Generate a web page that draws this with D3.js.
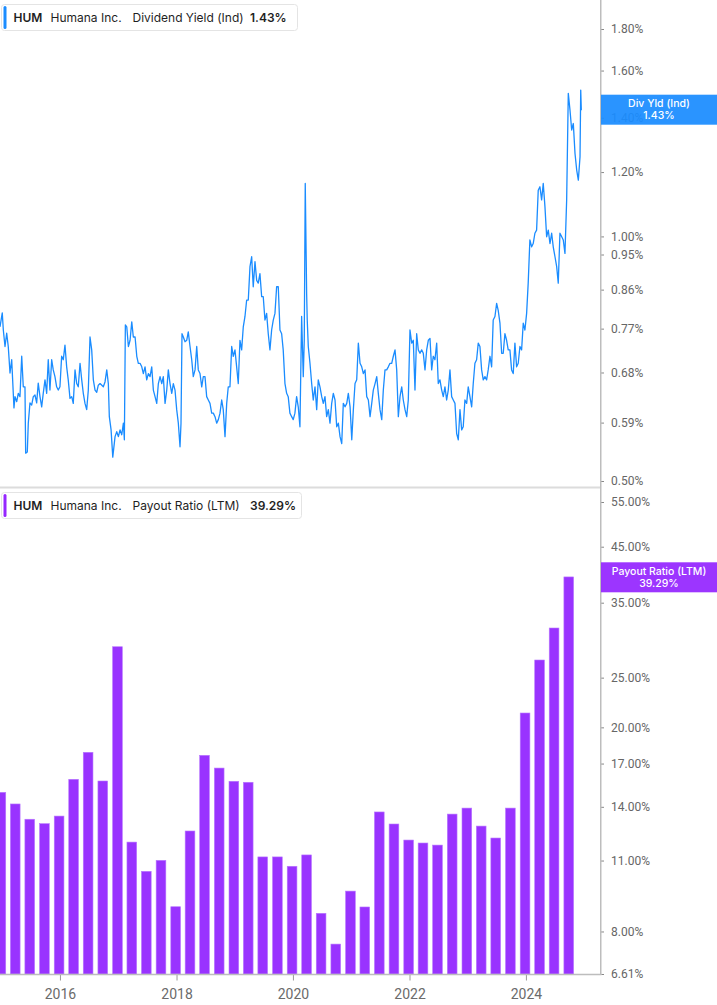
<!DOCTYPE html>
<html><head><meta charset="utf-8">
<script src="https://cdn.jsdelivr.net/npm/d3@7"></script>
<style>
html,body{margin:0;padding:0;background:#fff;}
svg{display:block;}
text{font-family:Inter,"Noto Sans",Roboto,sans-serif;}
</style></head><body>
<svg id="chart" width="717" height="1005"></svg>
<script>
// ---------- DATA ----------
const divDates = [
2014.970,2015.009,2015.027,2015.056,2015.085,2015.112,2015.142,2015.171,2015.210,2015.228,
2015.257,2015.284,2015.313,2015.343,2015.370,2015.399,2015.411,2015.439,2015.456,2015.485,
2015.514,2015.542,2015.571,2015.600,2015.627,2015.657,2015.686,2015.713,2015.743,2015.772,
2015.799,2015.828,2015.858,2015.885,2015.914,2015.943,2015.971,2016.000,2016.029,2016.057,
2016.086,2016.115,2016.142,2016.172,2016.201,2016.228,2016.258,2016.287,2016.314,2016.344,
2016.373,2016.400,2016.429,2016.458,2016.486,2016.515,2016.544,2016.572,2016.601,2016.630,
2016.657,2016.687,2016.743,2016.772,2016.802,2016.829,2016.846,2016.876,2016.905,2016.944,
2016.973,2017.001,2017.030,2017.059,2017.087,2017.104,2017.121,2017.145,2017.173,2017.202,
2017.231,2017.258,2017.288,2017.317,2017.344,2017.373,2017.403,2017.430,2017.459,2017.488,
2017.516,2017.545,2017.574,2017.602,2017.631,2017.660,2017.688,2017.717,2017.746,2017.773,
2017.803,2017.832,2017.859,2017.888,2017.918,2017.945,2017.974,2018.003,2018.031,2018.060,
2018.077,2018.094,2018.117,2018.146,2018.175,2018.202,2018.232,2018.261,2018.288,2018.318,
2018.347,2018.374,2018.403,2018.433,2018.460,2018.489,2018.518,2018.546,2018.575,2018.604,
2018.632,2018.661,2018.690,2018.718,2018.747,2018.776,2018.803,2018.833,2018.862,2018.889,
2018.918,2018.948,2018.975,2019.004,2019.033,2019.061,2019.090,2019.119,2019.147,2019.176,
2019.205,2019.233,2019.262,2019.291,2019.318,2019.348,2019.377,2019.404,2019.433,2019.463,
2019.490,2019.519,2019.548,2019.576,2019.605,2019.634,2019.662,2019.691,2019.720,2019.748,
2019.777,2019.806,2019.833,2019.863,2019.892,2019.919,2019.948,2019.978,2020.005,2020.034,
2020.063,2020.091,2020.120,2020.149,2020.177,2020.194,2020.211,2020.235,2020.245,2020.263,
2020.292,2020.321,2020.348,2020.378,2020.407,2020.434,2020.463,2020.493,2020.520,2020.549,
2020.578,2020.606,2020.635,2020.664,2020.692,2020.721,2020.750,2020.778,2020.807,2020.836,
2020.863,2020.893,2020.922,2020.949,2020.979,2021.008,2021.035,2021.064,2021.093,2021.121,
2021.150,2021.179,2021.207,2021.236,2021.265,2021.293,2021.322,2021.351,2021.378,2021.408,
2021.437,2021.464,2021.493,2021.523,2021.550,2021.579,2021.608,2021.636,2021.665,2021.694,
2021.722,2021.751,2021.780,2021.808,2021.837,2021.866,2021.893,2021.923,2021.952,2021.979,
2022.008,2022.038,2022.065,2022.094,2022.123,2022.151,2022.180,2022.209,2022.237,2022.266,
2022.295,2022.323,2022.352,2022.381,2022.408,2022.437,2022.467,2022.494,2022.523,2022.553,
2022.580,2022.609,2022.638,2022.666,2022.695,2022.724,2022.752,2022.781,2022.810,2022.838,
2022.867,2022.896,2022.923,2022.952,2022.982,2023.009,2023.038,2023.068,2023.095,2023.124,
2023.153,2023.181,2023.210,2023.239,2023.267,2023.296,2023.325,2023.352,2023.382,2023.411,
2023.438,2023.468,2023.497,2023.524,2023.554,2023.583,2023.610,2023.639,2023.668,2023.696,
2023.725,2023.754,2023.782,2023.811,2023.840,2023.868,2023.897,2023.926,2023.954,2023.983,
2024.012,2024.039,2024.068,2024.098,2024.125,2024.154,2024.183,2024.211,2024.240,2024.269,
2024.297,2024.326,2024.355,2024.383,2024.412,2024.441,2024.468,2024.498,2024.527,2024.554,
2024.583,2024.613,2024.640,2024.669,2024.698,2024.726,2024.755,2024.784,2024.812,2024.841,
2024.870,2024.898,2024.927,2024.939,2024.949
];
const divYield = [
0.774,0.805,0.767,0.732,0.760,0.732,0.679,0.705,0.615,0.635,
0.626,0.641,0.635,0.712,0.653,0.653,0.541,0.543,0.589,0.624,
0.620,0.635,0.638,0.624,0.660,0.635,0.617,0.641,0.666,0.641,
0.705,0.647,0.705,0.685,0.672,0.653,0.647,0.653,0.712,0.705,
0.735,0.691,0.666,0.632,0.635,0.623,0.685,0.659,0.653,0.698,
0.666,0.641,0.623,0.612,0.647,0.752,0.725,0.666,0.647,0.643,
0.656,0.659,0.653,0.662,0.685,0.659,0.600,0.578,0.535,0.567,
0.575,0.567,0.578,0.570,0.589,0.562,0.778,0.774,0.732,0.745,
0.785,0.752,0.752,0.712,0.698,0.698,0.691,0.678,0.691,0.666,
0.678,0.672,0.691,0.647,0.635,0.623,0.659,0.672,0.659,0.672,
0.623,0.647,0.685,0.659,0.641,0.659,0.647,0.612,0.589,0.551,
0.589,0.759,0.752,0.742,0.745,0.763,0.732,0.705,0.672,0.685,
0.732,0.685,0.678,0.653,0.672,0.672,0.635,0.629,0.623,0.606,
0.606,0.600,0.589,0.595,0.606,0.629,0.612,0.567,0.623,0.653,
0.653,0.732,0.712,0.725,0.691,0.659,0.745,0.725,0.774,0.797,
0.835,0.835,0.918,0.944,0.867,0.931,0.883,0.876,0.900,0.843,
0.843,0.789,0.804,0.759,0.725,0.767,0.789,0.804,0.867,0.867,
0.767,0.759,0.725,0.659,0.641,0.635,0.606,0.600,0.595,0.606,
0.635,0.617,0.583,0.797,0.672,0.745,1.162,0.849,0.789,0.732,
0.698,0.659,0.629,0.653,0.612,0.666,0.653,0.635,0.623,0.635,
0.600,0.612,0.589,0.623,0.641,0.629,0.583,0.589,0.567,0.556,
0.623,0.617,0.623,0.641,0.617,0.562,0.612,0.659,0.666,0.739,
0.698,0.691,0.678,0.685,0.635,0.629,0.600,0.623,0.647,0.659,
0.672,0.641,0.612,0.595,0.647,0.685,0.685,0.691,0.698,0.698,
0.712,0.725,0.685,0.600,0.635,0.653,0.629,0.612,0.600,0.629,
0.767,0.739,0.745,0.647,0.759,0.725,0.718,0.725,0.718,0.685,
0.725,0.745,0.749,0.685,0.712,0.705,0.739,0.659,0.666,0.647,
0.635,0.653,0.629,0.647,0.685,0.635,0.629,0.623,0.572,0.562,
0.612,0.578,0.583,0.629,0.623,0.653,0.635,0.617,0.659,0.698,
0.705,0.739,0.732,0.685,0.666,0.672,0.666,0.685,0.712,0.691,
0.789,0.797,0.827,0.811,0.782,0.718,0.718,0.759,0.745,0.725,
0.725,0.685,0.678,0.739,0.691,0.698,0.732,0.725,0.782,0.767,
0.804,0.876,0.990,0.971,0.980,1.009,1.018,1.140,1.151,1.109,
1.162,1.088,0.999,1.018,0.980,1.009,0.971,0.944,0.918,0.876,
1.009,0.999,0.990,0.953,1.109,1.500,1.431,1.352,1.377,1.265,
1.207,1.173,1.253,1.514,1.430
];
const payoutQuarters = [
"2014-12-31","2015-03-31","2015-06-30","2015-09-30","2015-12-31","2016-03-31","2016-06-30","2016-09-30",
"2016-12-31","2017-03-31","2017-06-30","2017-09-30","2017-12-31","2018-03-31","2018-06-30","2018-09-30",
"2018-12-31","2019-03-31","2019-06-30","2019-09-30","2019-12-31","2020-03-31","2020-06-30","2020-09-30",
"2020-12-31","2021-03-31","2021-06-30","2021-09-30","2021-12-31","2022-03-31","2022-06-30","2022-09-30",
"2022-12-31","2023-03-31","2023-06-30","2023-09-30","2023-12-31","2024-03-31","2024-06-30","2024-09-30"
];
const payoutRatio = [
14.94,14.18,13.24,12.98,13.43,15.84,17.88,15.72,
28.72,11.95,10.48,11.01,8.94,12.56,17.64,16.66,
15.70,15.63,11.18,11.18,10.72,11.28,8.68,7.56,
9.59,8.93,13.68,12.96,12.06,11.90,11.79,13.55,
13.92,12.84,12.17,13.92,21.33,27.06,31.24,39.29
];
const yieldTicks = [0.50,0.59,0.68,0.77,0.86,0.95,1.00,1.20,1.40,1.60,1.80];
const payoutTicks = [6.61,8,11,14,17,20,25,35,45,55];
const yearTicks = [2016,2018,2020,2022,2024];
const lastYield = 1.43, lastPayout = 39.29;

// ---------- HELPERS ----------
function decToDate(d){const y=Math.floor(d);const s=Date.UTC(y,0,1),e=Date.UTC(y+1,0,1);return new Date(s+(d-y)*(e-s));}

const svg = d3.select("#chart");
const W = 717, plotR = 600;
const x = d3.scaleUtc().domain([decToDate(2014.970), decToDate(2025.270)]).range([0, plotR]);
const yTop = d3.scaleLog().domain([0.5, 1.8]).range([481, 29]);
const yBot = d3.scaleLog().domain([6.61, 55]).range([974, 502]);

svg.append("defs").append("clipPath").attr("id","clip")
  .append("rect").attr("x",0).attr("y",0).attr("width",plotR).attr("height",1005);

// ---------- BARS ----------
const bw = 9.7;
svg.append("g").attr("clip-path","url(#clip)")
  .selectAll("rect").data(payoutQuarters.map((q,i)=>({d:new Date(q+"T00:00:00Z"), v:payoutRatio[i]})))
  .join("rect")
  .attr("x", d=>x(d.d)-bw/2-0.7)
  .attr("width", bw)
  .attr("y", d=>yBot(d.v))
  .attr("height", d=>yBot(6.61)-yBot(d.v))
  .attr("fill", "#9933ff")
  .attr("stroke", "#b877ff").attr("stroke-width", 0.6);

// ---------- LINE ----------
const lineData = divDates.map((t,i)=>({d:decToDate(t), v:divYield[i]}));
svg.append("path").datum(lineData)
  .attr("clip-path","url(#clip)")
  .attr("fill","none").attr("stroke","#1a8cff").attr("stroke-width",1.3)
  .attr("stroke-linejoin","round")
  .attr("d", d3.line().x(d=>x(d.d)).y(d=>yTop(d.v)));

// ---------- SEPARATOR ----------
svg.append("line").attr("x1",0).attr("x2",plotR).attr("y1",487.5).attr("y2",487.5)
  .attr("stroke","#dcdcdc").attr("stroke-width",2);

// ---------- AXES ----------
const axisCol = "#bdbdbd";
function styleAxis(g){
  g.select(".domain").remove();
  g.selectAll(".tick line").attr("stroke","#888").attr("stroke-width",1);
  g.selectAll(".tick text").attr("fill","#666").style("font-family","Roboto, 'Noto Sans', sans-serif").style("font-size","12px");
}
svg.append("g").attr("transform",`translate(${plotR+1},0)`)
  .call(d3.axisRight(yTop).tickValues(yieldTicks).tickFormat(d=>d.toFixed(2)+"%").tickSize(3).tickPadding(7))
  .call(styleAxis);
svg.append("g").attr("transform",`translate(${plotR+1},0)`)
  .call(d3.axisRight(yBot).tickValues(payoutTicks).tickFormat(d=>d.toFixed(2)+"%").tickSize(3).tickPadding(7))
  .call(styleAxis);
const xg = svg.append("g").attr("transform","translate(0,974.5)")
  .call(d3.axisBottom(x).tickValues(yearTicks.map(y=>new Date(Date.UTC(y,0,1)))).tickFormat(d3.utcFormat("%Y")).tickSize(6).tickPadding(9));
xg.select(".domain").remove();
xg.selectAll(".tick line").attr("stroke","#999");
xg.selectAll(".tick text").attr("fill","#6b6b6b").style("font-family","Roboto, sans-serif").style("font-size","14px");

svg.append("line").attr("x1",plotR+0.75).attr("x2",plotR+0.75).attr("y1",0).attr("y2",975)
  .attr("stroke",axisCol).attr("stroke-width",1.5);
svg.append("line").attr("x1",0).attr("x2",plotR+1.5).attr("y1",974.5).attr("y2",974.5)
  .attr("stroke",axisCol).attr("stroke-width",1.5);

// ---------- LAST-VALUE BOXES ----------
function valueBox(yc, color, title, val){
  const g = svg.append("g");
  g.append("rect").attr("x",plotR+1).attr("y",yc-15).attr("width",W-plotR-1).attr("height",30)
    .attr("fill",color).attr("fill-opacity",0.93);
  g.append("text").attr("x",(plotR+1+W)/2).attr("y",yc-2.8).attr("text-anchor","middle")
    .attr("fill","#fff").style("font-size","10.5px").style("font-weight",500).text(title);
  g.append("text").attr("x",(plotR+1+W)/2).attr("y",yc+9.2).attr("text-anchor","middle")
    .attr("fill","#fff").style("font-size","10.5px").style("font-weight",500).text(val);
}
valueBox(109.7, "#1a8cff", "Div Yld (Ind)", lastYield.toFixed(2)+"%");
valueBox(577.3, "#9526ff", "Payout Ratio (LTM)", lastPayout.toFixed(2)+"%");

// ---------- LEGENDS ----------
function legend(y0, w, color, metric, val){
  const g = svg.append("g");
  g.append("rect").attr("x",1.5).attr("y",y0+0.5).attr("width",w).attr("height",26)
    .attr("rx",3).attr("fill","#fff").attr("stroke","#e4e4e4");
  g.append("rect").attr("x",3.5).attr("y",y0+2).attr("width",3).attr("height",23).attr("rx",1.5).attr("fill",color);
  const ty = y0+17.5;
  g.append("text").attr("x",13.5).attr("y",ty).attr("fill","#1f1f1f").style("font-size","12px").style("font-weight",600).text("HUM");
  g.append("text").attr("x",50.5).attr("y",ty).attr("fill","#1f1f1f").style("font-size","12px").style("font-weight",400).text("Humana Inc.");
  g.append("text").attr("x",132.5).attr("y",ty).attr("fill","#1f1f1f").style("font-size","12px").style("font-weight",400).text(metric);
  g.append("text").attr("x", metric.length>20?246.5:250).attr("y",ty).attr("fill","#1f1f1f").style("font-size","12px").style("font-weight",600).text(val);
}
legend(4, 296, "#1a8cff", "Dividend Yield (Ind)", lastYield.toFixed(2)+"%");
legend(492, 300, "#9526ff", "Payout Ratio (LTM)", lastPayout.toFixed(2)+"%");
</script>
</body></html>
